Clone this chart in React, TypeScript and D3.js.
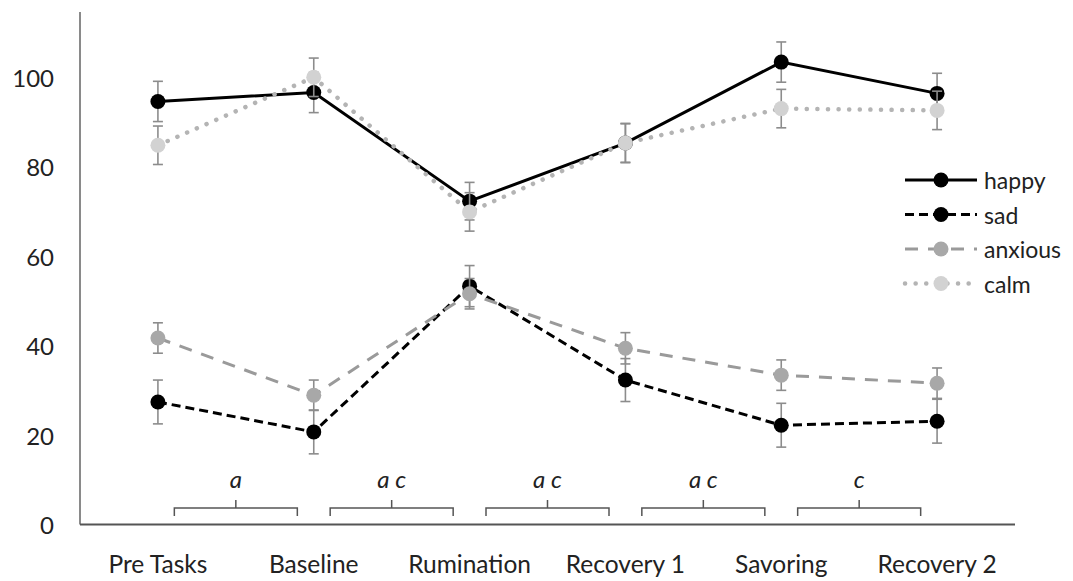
import React from "react";
import * as d3 from "d3";

const categories = ["Pre Tasks", "Baseline", "Rumination", "Recovery 1", "Savoring", "Recovery 2"];
const happy = [94.6, 96.6, 72.3, 85.3, 103.4, 96.4];
const happyErr = [4.5, 4.5, 4.2, 4.4, 4.5, 4.5];
const sad = [27.4, 20.7, 53.3, 32.3, 22.2, 23.1];
const sadErr = [4.9, 4.9, 4.6, 4.8, 4.9, 4.9];
const anxious = [41.7, 28.9, 51.6, 39.4, 33.4, 31.6];
const anxiousErr = [3.4, 3.4, 3.4, 3.5, 3.4, 3.4];
const calm = [84.8, 100.0, 69.9, 85.3, 93.0, 92.6];
const calmErr = [4.3, 4.3, 4.3, 4.3, 4.3, 4.3];
const yTicks = [0, 20, 40, 60, 80, 100];
const bracketLabels = ["a", "a c", "a c", "a c", "c"];

const series = [
  { name: "happy", values: happy, err: happyErr, stroke: "#000", fill: "#000", dash: "", width: 3, cap: "butt" },
  { name: "sad", values: sad, err: sadErr, stroke: "#000", fill: "#000", dash: "9,5", width: 3, cap: "butt" },
  { name: "anxious", values: anxious, err: anxiousErr, stroke: "#9a9a9a", fill: "#a8a8a8", dash: "13,10", width: 3, cap: "butt" },
  { name: "calm", values: calm, err: calmErr, stroke: "#b4b4b4", fill: "#d2d2d2", dash: "0.1,10.5", width: 4.5, cap: "round" },
];

const FONT = "Lato, 'Open Sans', sans-serif";

export default function App() {
  const W = 1073, H = 581;
  const x = d3.scaleBand().domain(categories).range([80, 1015]);
  const cx = (i: number) => (x(categories[i]) as number) + x.bandwidth() / 2;
  const y = d3.scaleLinear().domain([0, 114.6]).range([524.5, 12]);
  const line = d3.line<number>().x((_, i) => cx(i)).y((v) => y(v));

  return (
    <svg width={W} height={H} style={{ position: "absolute", left: 0, top: 0, background: "#fff" }} fontFamily={FONT}>
      <rect width={W} height={H} fill="#fff" />
      {/* axes */}
      <line x1={80} x2={80} y1={y.range()[1]} y2={y(0)} stroke="#8a8a8a" strokeWidth={2} />
      <line x1={80} x2={1015} y1={y(0)} y2={y(0)} stroke="#555" strokeWidth={2} />
      {yTicks.map((t) => (
        <text key={t} x={54} y={y(t)} textAnchor="end" dominantBaseline="central" fontSize={24} fill="#222">
          {t}
        </text>
      ))}
      {categories.map((c, i) => (
        <text key={c} x={cx(i)} y={563} textAnchor="middle" dominantBaseline="central" fontSize={24.5} fill="#222">
          {c}
        </text>
      ))}
      {/* brackets */}
      {bracketLabels.map((lab, i) => {
        const m = (cx(i) + cx(i + 1)) / 2;
        const hw = 61.5;
        const yb = 516, yt = 508, ytick = 500;
        return (
          <g key={i}>
            <path
              d={`M${m - hw},${yb} L${m - hw},${yt} L${m + hw},${yt} L${m + hw},${yb} M${m},${yt} L${m},${ytick}`}
              fill="none"
              stroke="#555"
              strokeWidth={1.5}
            />
            <text x={m} y={478} textAnchor="middle" dominantBaseline="central" fontSize={24} fontStyle="italic" fill="#222">
              {lab}
            </text>
          </g>
        );
      })}
      {/* series */}
      {series.map((s) => (
        <g key={s.name}>
          <path
            d={line(s.values) || ""}
            fill="none"
            stroke={s.stroke}
            strokeWidth={s.width}
            strokeDasharray={s.dash || undefined}
            strokeLinecap={s.cap as any}
          />
          {s.values.map((v, i) => {
            const x0 = cx(i);
            const top = y(v + s.err[i]);
            const bot = y(v - s.err[i]);
            return (
              <g key={i} stroke="#8c8c8c" strokeWidth={1.6}>
                <line x1={x0} x2={x0} y1={top} y2={bot} />
                <line x1={x0 - 5} x2={x0 + 5} y1={top} y2={top} />
                <line x1={x0 - 5} x2={x0 + 5} y1={bot} y2={bot} />
              </g>
            );
          })}
          {s.values.map((v, i) => (
            <circle key={i} cx={cx(i)} cy={y(v)} r={7.5} fill={s.fill} />
          ))}
        </g>
      ))}
      {/* legend */}
      {series.map((s, i) => {
        const ly = 180 + i * 34.5;
        return (
          <g key={s.name}>
            <line
              x1={905}
              x2={977}
              y1={ly}
              y2={ly}
              stroke={s.stroke}
              strokeWidth={s.width}
              strokeDasharray={s.dash || undefined}
              strokeLinecap={s.cap as any}
            />
            <circle cx={941} cy={ly} r={7.5} fill={s.fill} />
            <text x={984} y={ly} dominantBaseline="central" fontSize={23} fill="#222">
              {s.name}
            </text>
          </g>
        );
      })}
    </svg>
  );
}
